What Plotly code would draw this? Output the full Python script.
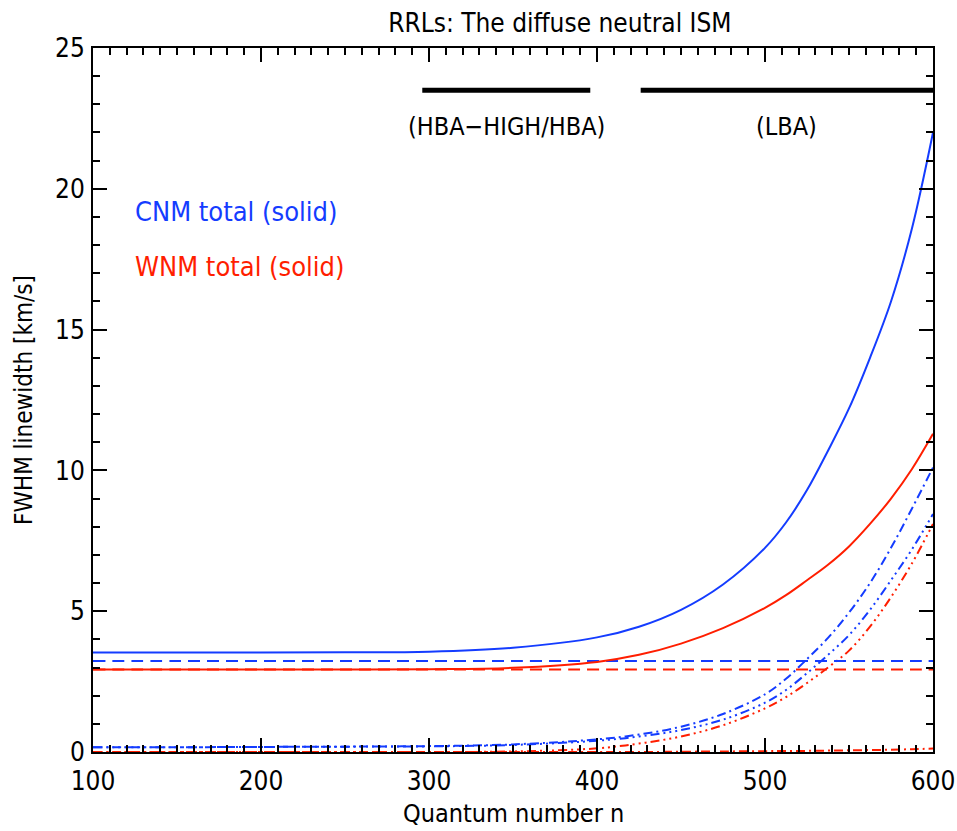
import plotly.graph_objects as go

# ---- data ----
n_grid = [100, 150, 200, 250, 300, 350, 400, 425, 450, 475, 500, 512.5, 525, 537.5, 550, 562.5, 575, 587.5, 600]
cnm_total = [3.53, 3.53, 3.53, 3.54, 3.56, 3.70, 4.07, 4.45, 5.05, 5.95, 7.25, 8.15, 9.3, 10.7, 12.2, 14.0, 16.0, 18.6, 22.0]
wnm_total = [2.93, 2.93, 2.93, 2.93, 2.94, 2.99, 3.20, 3.45, 3.85, 4.40, 5.12, 5.57, 6.10, 6.65, 7.30, 8.10, 9.00, 10.05, 11.3]
cnm_doppler = [3.23] * len(n_grid)
wnm_doppler = [2.93] * len(n_grid)
cnm_dashdot = [0.17, 0.17, 0.18, 0.19, 0.21, 0.27, 0.45, 0.62, 0.90, 1.35, 2.05, 2.6, 3.3, 4.05, 4.95, 6.0, 7.25, 8.65, 10.1]
cnm_dash3dot = [0.17, 0.17, 0.18, 0.19, 0.20, 0.25, 0.40, 0.55, 0.78, 1.15, 1.75, 2.2, 2.8, 3.45, 4.15, 5.05, 6.1, 7.2, 8.45]
wnm_dash3dot = [0, 0, 0, 0, 0, 0.02, 0.13, 0.30, 0.55, 0.95, 1.55, 1.95, 2.45, 3.0, 3.6, 4.45, 5.5, 6.7, 8.1]
wnm_dashdot = [0, 0, 0, 0, 0, 0, 0, 0, 0.01, 0.02, 0.03, 0.035, 0.04, 0.05, 0.06, 0.07, 0.08, 0.10, 0.12]

band_labels = ["(HBA\u2212HIGH/HBA)", "(LBA)"]
band_start = [296, 426]
band_end = [396, 600]
band_level = 23.5
band_label_level = 22.2

legend_labels = ["CNM total (solid)", "WNM total (solid)"]
legend_levels = [19.2, 17.25]
legend_x = 124

x_ticks = [100, 200, 300, 400, 500, 600]
y_ticks = [0, 5, 10, 15, 20, 25]

BLUE = "rgb(20,60,255)"
RED = "rgb(255,30,0)"
FONT = "Liberation Sans Narrow, DejaVu Sans Condensed, sans-serif"

DASH = "12px,7px"
DASHDOT = "9px,4px,2px,4px"
DASH3DOT = "9px,4px,2px,4px,2px,4px,2px,4px"

fig = go.Figure()

def add(y, color, dash):
    fig.add_trace(go.Scatter(x=n_grid, y=y, mode="lines",
                             line=dict(color=color, width=2, dash=dash, shape="spline", smoothing=1.0),
                             showlegend=False, hoverinfo="skip"))

add(wnm_dashdot, RED, DASHDOT)
add(wnm_dash3dot, RED, DASH3DOT)
add(cnm_dash3dot, BLUE, DASH3DOT)
add(cnm_dashdot, BLUE, DASHDOT)
add(wnm_doppler, RED, DASH)
add(cnm_doppler, BLUE, DASH)
add(wnm_total, RED, "solid")
add(cnm_total, BLUE, "solid")

for lab, s, e in zip(band_labels, band_start, band_end):
    fig.add_trace(go.Scatter(x=[s, e], y=[band_level, band_level], mode="lines",
                             line=dict(color="black", width=5), showlegend=False, hoverinfo="skip"))
    fig.add_annotation(x=(s + e) / 2, y=band_label_level, text=lab, showarrow=False,
                       font=dict(family=FONT, size=25, color="black"), xanchor="center", yanchor="middle")

for lab, lev, col in zip(legend_labels, legend_levels, [BLUE, RED]):
    fig.add_annotation(x=legend_x, y=lev, text=lab, showarrow=False, xanchor="left", yanchor="middle",
                       font=dict(family=FONT, size=27, color=col))

# x-axis title placed as paper annotation for exact position
fig.add_annotation(x=0.5, y=-0.087, xref="paper", yref="paper", text="Quantum number n",
                   showarrow=False, xanchor="center", yanchor="middle",
                   font=dict(family=FONT, size=25, color="black"))

axis_common = dict(showline=True, linecolor="black", linewidth=2, mirror="allticks",
                   ticks="inside", ticklen=14, tickwidth=2, tickcolor="black",
                   showgrid=False, zeroline=False, automargin=False,
                   tickfont=dict(family=FONT, size=26, color="black"))

fig.update_xaxes(range=[100, 600], tickvals=x_ticks, ticklabelstandoff=5,
                 minor=dict(ticks="inside", ticklen=7, tickwidth=1.5, dtick=10, tickcolor="black", showgrid=False),
                 **axis_common)
fig.update_yaxes(range=[0, 25], tickvals=y_ticks, ticklabelstandoff=1,
                 minor=dict(ticks="inside", ticklen=7, tickwidth=1.5, dtick=1, tickcolor="black", showgrid=False),
                 title=dict(text="FWHM linewidth [km/s]", font=dict(family=FONT, size=24, color="black"), standoff=16),
                 **axis_common)

fig.update_layout(
    width=957, height=831,
    margin=dict(l=93, r=24, t=48, b=79),
    plot_bgcolor="white", paper_bgcolor="white",
    title=dict(text="RRLs: The diffuse neutral ISM", x=0.585, xanchor="center", y=0.973, yanchor="middle",
               font=dict(family=FONT, size=26, color="black")),
)

fig.write_html("out.html")
